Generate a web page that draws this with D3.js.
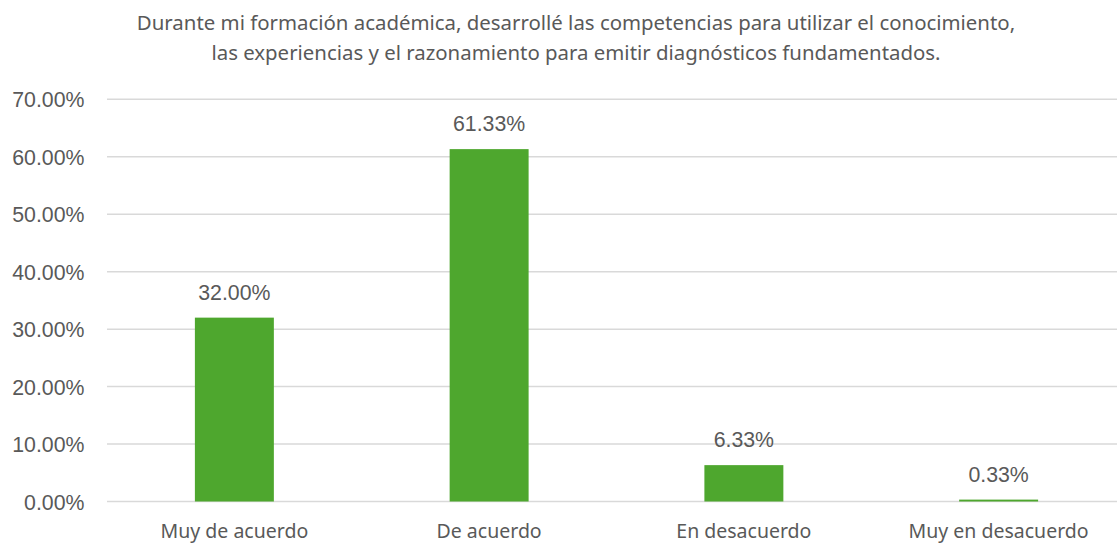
<!DOCTYPE html>
<html>
<head>
<meta charset="utf-8">
<script src="https://cdn.jsdelivr.net/npm/d3@7"></script>
<style>
  body { margin: 0; background: #fff; }
  .axis-label { font-family: "Liberation Sans", Arial, sans-serif; font-size: 21.3px; fill: #595959; }
  .cat-label { font-family: "Noto Sans", sans-serif; font-size: 19.5px; fill: #595959; }
  .title { font-family: "Noto Sans", sans-serif; font-size: 20.4px; fill: #595959; }
</style>
</head>
<body>
<div id="chart"></div>
<script>
var categories = ["Muy de acuerdo", "De acuerdo", "En desacuerdo", "Muy en desacuerdo"];
var values = [32.00, 61.33, 6.33, 0.33];
var yTicks = [0, 10, 20, 30, 40, 50, 60, 70];
var titleLines = [
  "Durante mi formación académica, desarrollé las competencias para utilizar el conocimiento,",
  "las experiencias y el razonamiento para emitir diagnósticos fundamentados."
];

var width = 1117,
    height = 544;

var margin = {top: 99.3, right: -9, bottom: 42, left: 107};

var svg = d3.select("#chart")
    .append("svg")
    .attr("width", width)
    .attr("height", height);

var x = d3.scaleBand()
    .domain(categories)
    .range([margin.left, width - margin.right])
    .paddingInner(0.69)
    .paddingOuter(0.345);

var y = d3.scaleLinear()
    .domain([0, 70])
    .range([height - margin.bottom - 0.5, margin.top]);

var fmt = function(v) { return v.toFixed(2) + "%"; };

// title
svg.selectAll(".title")
    .data(titleLines)
    .enter().append("text")
    .attr("class", "title")
    .attr("x", 576)
    .attr("y", function(d, i) { return 30 + i * 30; })
    .attr("text-anchor", "middle")
    .text(function(d) { return d; });

// gridlines
svg.append("g")
    .selectAll("line")
    .data(yTicks)
    .enter().append("line")
    .attr("x1", margin.left)
    .attr("x2", width)
    .attr("y1", function(d) { return y(d); })
    .attr("y2", function(d) { return y(d); })
    .attr("stroke", "#d9d9d9")
    .attr("stroke-width", 1.5);

// y labels
svg.append("g")
    .selectAll("text")
    .data(yTicks)
    .enter().append("text")
    .attr("class", "axis-label")
    .attr("x", 84.5)
    .attr("y", function(d) { return y(d) + 8; })
    .attr("text-anchor", "end")
    .text(function(d) { return d.toFixed(2) + "%"; });

// bars
svg.append("g")
    .selectAll("rect")
    .data(values)
    .enter().append("rect")
    .attr("x", function(d, i) { return x(categories[i]); })
    .attr("width", x.bandwidth())
    .attr("y", function(d) { return y(d); })
    .attr("height", function(d) { return y(0) - y(d); })
    .attr("fill", "#4ea72e");

// value labels
svg.append("g")
    .selectAll("text")
    .data(values)
    .enter().append("text")
    .attr("class", "axis-label")
    .attr("x", function(d, i) { return x(categories[i]) + x.bandwidth() / 2; })
    .attr("y", function(d) { return y(d) - 17.7; })
    .attr("text-anchor", "middle")
    .text(fmt);

// category labels
svg.append("g")
    .selectAll("text")
    .data(categories)
    .enter().append("text")
    .attr("class", "cat-label")
    .attr("x", function(d) { return x(d) + x.bandwidth() / 2; })
    .attr("y", 538)
    .attr("text-anchor", "middle")
    .text(function(d) { return d; });
</script>
</body>
</html>
